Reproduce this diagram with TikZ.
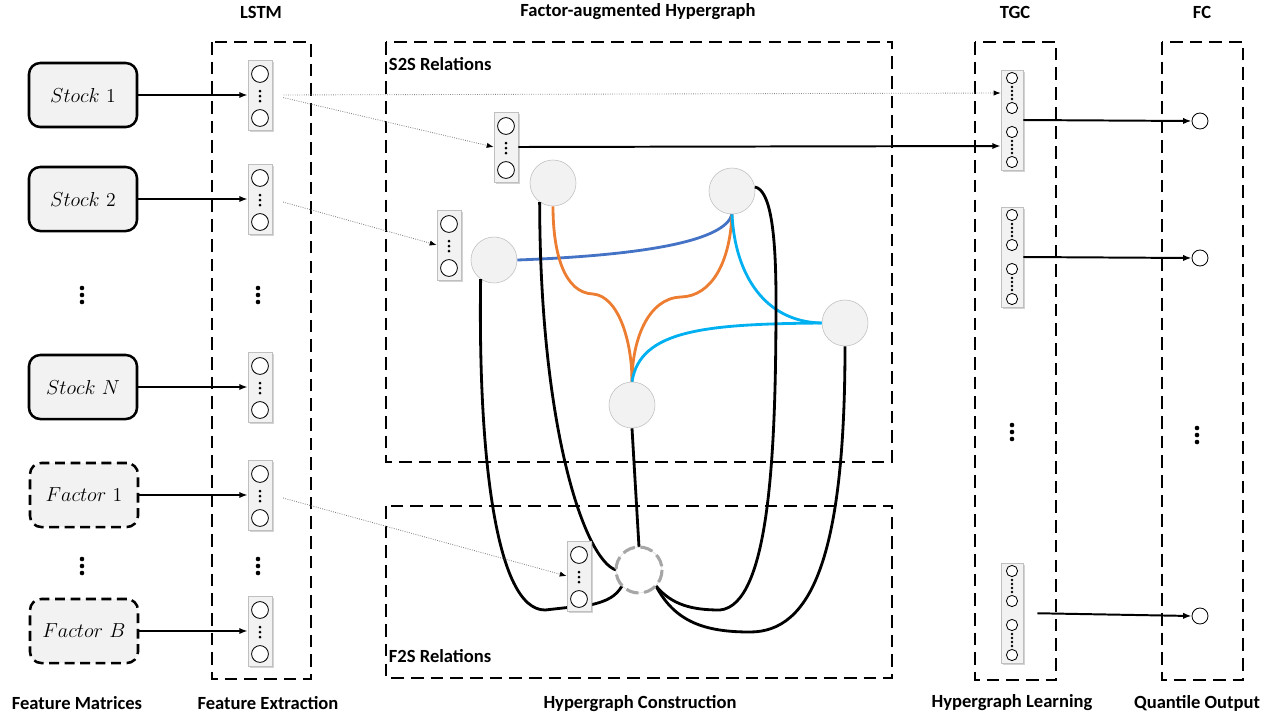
\documentclass[tikz,border=0pt]{standalone}
\usepackage{fontspec}
\newfontfamily\labfont{Carlito}
\usetikzlibrary{positioning,calc,shadows,arrows.meta}

\definecolor{boxgray}{HTML}{F2F2F2}
\definecolor{rimgray}{HTML}{BFBFBF}
\definecolor{ringgray}{HTML}{A6A6A6}
\definecolor{hblue}{HTML}{4472C4}
\definecolor{horange}{HTML}{ED7D31}
\definecolor{hcyan}{HTML}{00B0F0}

\tikzset{
  lab/.style={font=\labfont\bfseries\fontsize{13.2}{15}\selectfont},
  stage/.style={draw, line width=1.9pt, dash pattern=on 9pt off 5pt},
  inbox/.style={draw, line width=1.8pt, rounded corners=8pt, fill=boxgray,
                minimum width=2.7cm, minimum height=1.6cm,
                font=\fontsize{14}{16}\selectfont},
  factorbox/.style={inbox, dash pattern=on 7pt off 4pt},
  cellbox/.style={draw=rimgray, fill=boxgray,
                  drop shadow={opacity=0.35, shadow xshift=0.04cm, shadow yshift=-0.04cm}},
  unit/.style={circle, draw, line width=0.6pt, fill=white, inner sep=0pt},
  vertex/.style={circle, draw=rimgray, fill=boxgray, minimum size=1.15cm, inner sep=0pt},
  arr/.style={line width=1.4pt, -{Latex[length=6pt]}},
  link/.style={densely dotted, gray, line width=0.6pt, -{Latex[length=5pt, color=black]}},
  hedge/.style={line width=2pt},
}

% LSTM cell: box, two units, dots
\newcommand\lstmcell[2]{%
  \node[cellbox, minimum width=0.6cm, minimum height=1.75cm] (#1) at (#2) {};
  \node[unit, minimum size=0.42cm] at ($(#1)+(0,-21)$) {};
  \node[unit, minimum size=0.42cm] at ($(#1)+(0,23)$) {};
  \foreach \d in {-4,1,6} \fill ($(#1)+(0,\d)$) circle (1.5);
}
% TGC cell: box, four units, dots
\newcommand\tgccell[2]{%
  \node[cellbox, minimum width=0.55cm, minimum height=2.5cm] (#1) at (#2) {};
  \foreach \u in {-42,-12,12,42} \node[unit, minimum size=0.28cm] at ($(#1)+(0,\u)$) {};
  \foreach \d in {-33,-29,-25,-21,21,25,29,33} \fill ($(#1)+(0,\d)$) circle (1.3);
}
\newcommand\vdotsat[1]{\foreach \d in {-7,0,7} \fill ($(#1)+(0,\d)$) circle (2.3);}

\begin{document}
\begin{tikzpicture}[x=0.025cm, y=-0.025cm]
\useasboundingbox (0,0) rectangle (1278,719);

% stages
\draw[stage] (212,42) rectangle (311,679);
\draw[stage] (386,42) rectangle (892,462);
\draw[stage] (386,506) rectangle (892,678);
\draw[stage] (975,42) rectangle (1056,680);
\draw[stage] (1162,42) rectangle (1243,680);

\node[lab] at (261,12) {LSTM};
\node[lab] at (638,12) {Factor-augmented Hypergraph};
\node[lab] at (1015,12) {TGC};
\node[lab] at (1202,12) {FC};
\node[lab] at (77,703) {Feature Matrices};
\node[lab] at (268,703) {Feature Extraction};
\node[lab] at (640,704) {Hypergraph Construction};
\node[lab] at (1012,703) {Hypergraph Learning};
\node[lab] at (1197,703) {Quantile Output};
\node[lab, anchor=west] at (384,64) {S2S Relations};
\node[lab, anchor=west] at (384,656) {F2S Relations};

% inputs
\node[inbox] (s1) at (83,95) {$Stock$ 1};
\node[inbox] (s2) at (83,199) {$Stock$ 2};
\node[inbox] (sn) at (83,387) {$Stock$ $N$};
\node[factorbox] (f1) at (84,495) {$Factor$ 1};
\node[factorbox] (fb) at (84,631) {$Factor$ $B$};
\vdotsat{82,295}
\vdotsat{82,566}

% hyperedges
\node[vertex] (n1) at (553,183) {};
\node[vertex] (n2) at (494,260) {};
\node[vertex] (n3) at (732,191) {};
\node[vertex] (n4) at (845,323) {};
\node[vertex] (n5) at (632,405) {};
\coordinate (ring) at (639,570);

\draw[hedge, hblue] (n2.east) .. controls (650,255) and (725,240) .. (n3.south);
\draw[hedge, horange] (n1.south) .. controls (553,255) and (565,293) .. (593,294)
  .. controls (618,296) and (632,340) .. (n5.north);
\draw[hedge, horange] (n3.south) .. controls (730,262) and (712,296) .. (681,297)
  .. controls (648,298) and (632,340) .. (n5.north);
\draw[hedge, hcyan] (n3.south) .. controls (735,275) and (765,322) .. (n4.west);
\draw[hedge, hcyan] (n5.north) .. controls (640,330) and (705,324) .. (n4.west);

\draw[hedge] (n2.235) .. controls (478,450) and (495,610) .. (545,610)
  -- (590,605) .. controls (608,601) and (616,596) .. ($(ring)+(-17,16)$);
\draw[hedge] (n1.235) .. controls (540,430) and (585,560) .. ($(ring)+(-23,0)$);
\draw[hedge] (n5.south) -- ($(ring)+(0,-23)$);
\draw[hedge] ($(ring)+(17,16)$) .. controls (672,605) and (692,610) .. (720,610)
  .. controls (770,605) and (776,450) .. (776,300) .. controls (776,230) and (770,190) .. (n3.10);
\draw[hedge] ($(ring)+(17,16)$) .. controls (675,622) and (705,632) .. (750,632)
  .. controls (810,632) and (845,560) .. (n4.south);

\draw[rimgray!60, line width=0.4pt] (ring) circle (23);
\draw[ringgray, line width=2.2pt, dash pattern=on 9pt off 4pt] (ring) circle (23);

% LSTM cells
\lstmcell{l1}{260,95}
\lstmcell{l2}{260,199}
\lstmcell{l3}{260,387}
\lstmcell{l4}{260,495}
\lstmcell{l5}{260,631}
\vdotsat{258,295}
\vdotsat{258,566}
\lstmcell{sa}{506,147}
\lstmcell{sb}{449,245}
\lstmcell{sf}{579,576}

% TGC and FC
\tgccell{t1}{1012,120}
\tgccell{t2}{1012,257}
\tgccell{t3}{1012,613}
\vdotsat{1012,432}
\vdotsat{1197,435}
\node[unit, minimum size=0.4cm] (o1) at (1200,121) {};
\node[unit, minimum size=0.4cm] (o2) at (1200,258) {};
\node[unit, minimum size=0.4cm] (o3) at (1200,616) {};

\draw[arr] (s1) -- (l1);
\draw[arr] (s2) -- (l2);
\draw[arr] (sn) -- (l3);
\draw[arr] (f1) -- (l4);
\draw[arr] (fb) -- (l5);

\draw[link, shorten <=8pt] (l1.east) -- ($(t1.west)+(0,-27)$);
\draw[link, shorten <=8pt] (l1.east) -- (sa.west);
\draw[link, shorten <=8pt] (l2.east) -- (sb.west);
\draw[link, shorten <=8pt] (l4.east) -- (sf.west);
\draw[arr] (sa.east) -- ($(t1.west)+(0,26)$);

\draw[arr] (t1.east) -- (o1.west);
\draw[arr] (t2.east) -- (o2.west);
\draw[arr, shorten <=10pt] (t3.east) -- (o3.west);
\end{tikzpicture}
\end{document}
